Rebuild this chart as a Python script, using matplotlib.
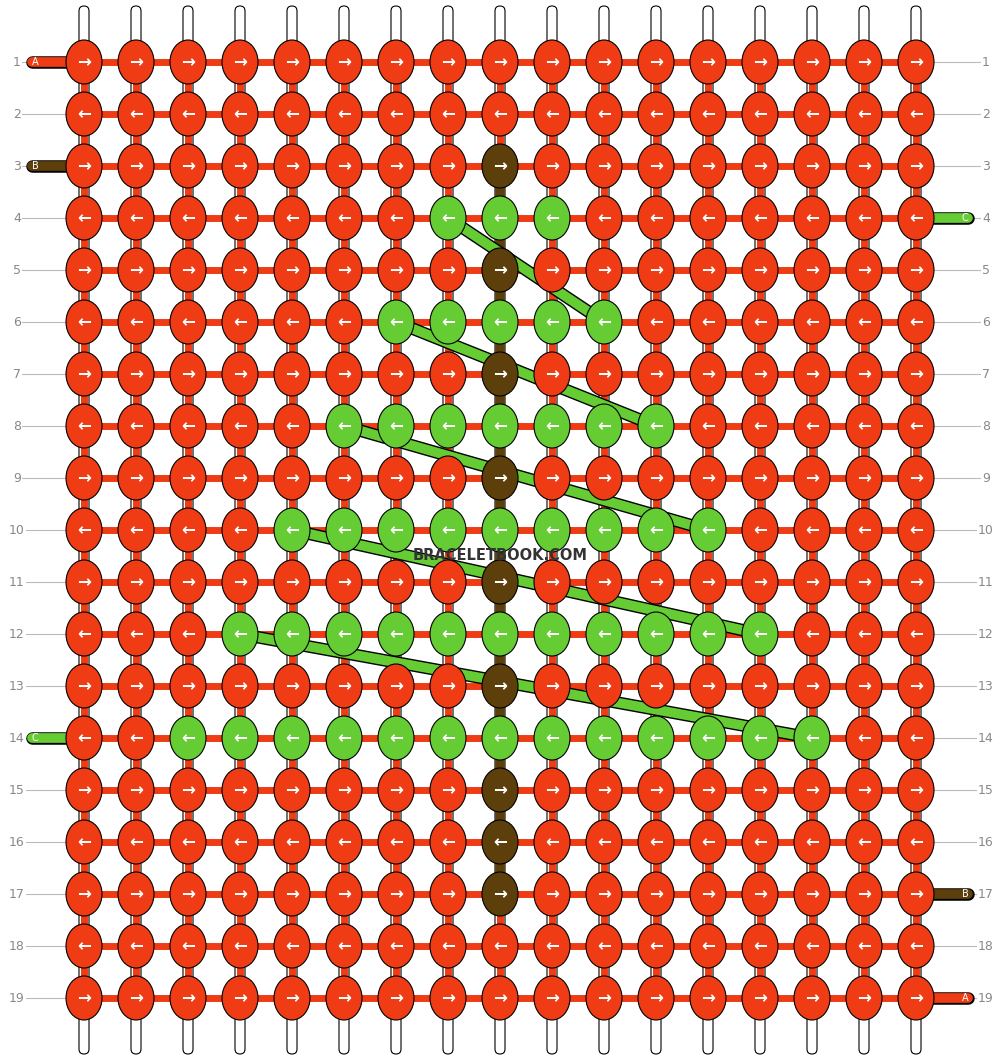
import matplotlib
matplotlib.use("Agg")
import matplotlib.pyplot as plt
from matplotlib.patches import Ellipse, FancyBboxPatch

n_cols = 17
n_rows = 19
# knot colours per row: 'O' orange, 'G' green, 'B' brown
rows = [
    "OOOOOOOOOOOOOOOOO",
    "OOOOOOOOOOOOOOOOO",
    "OOOOOOOOBOOOOOOOO",
    "OOOOOOOGGGOOOOOOO",
    "OOOOOOOOBOOOOOOOO",
    "OOOOOOGGGGGOOOOOO",
    "OOOOOOOOBOOOOOOOO",
    "OOOOOGGGGGGGOOOOO",
    "OOOOOOOOBOOOOOOOO",
    "OOOOGGGGGGGGGOOOO",
    "OOOOOOOOBOOOOOOOO",
    "OOOGGGGGGGGGGGOOO",
    "OOOOOOOOBOOOOOOOO",
    "OOGGGGGGGGGGGGGOO",
    "OOOOOOOOBOOOOOOOO",
    "OOOOOOOOBOOOOOOOO",
    "OOOOOOOOBOOOOOOOO",
    "OOOOOOOOOOOOOOOOO",
    "OOOOOOOOOOOOOOOOO",
]
colors = {"O": "#F03C14", "G": "#66CC33", "B": "#5C3F0A"}
# green diagonal threads: (col_start,row_start,col_end,row_end), 1-based
green_diag = [(8, 4, 11, 6), (7, 6, 12, 8), (6, 8, 13, 10), (5, 10, 14, 12), (4, 12, 15, 14)]
left_labels = {1: ("A", "O"), 3: ("B", "B"), 14: ("C", "G")}
right_labels = {4: ("C", "G"), 17: ("B", "B"), 19: ("A", "O")}

x0, dx = 84, 52
y0, dy = 62, 52
X = lambda c: x0 + (c - 1) * dx
Y = lambda r: y0 + (r - 1) * dy

fig = plt.figure(figsize=(10, 10.6), dpi=100)
ax = fig.add_axes([0, 0, 1, 1])
ax.set_xlim(0, 1000)
ax.set_ylim(1060, 0)
ax.axis("off")

# row label lines and numbers
for r in range(1, n_rows + 1):
    y = Y(r)
    ax.plot([20, 980], [y, y], color="#BBBBBB", lw=0.8, zorder=0)
    ax.text(17, y, str(r), ha="center", va="center", fontsize=9, color="#888888", zorder=1,
            bbox=dict(fc="white", ec="none", pad=1))
    ax.text(986, y, str(r), ha="center", va="center", fontsize=9, color="#888888", zorder=1,
            bbox=dict(fc="white", ec="none", pad=1))

# vertical white strings
for c in range(1, n_cols + 1):
    x = X(c)
    ax.add_patch(FancyBboxPatch((x - 5, 6), 10, 1048, boxstyle="round,pad=0,rounding_size=5",
                                fc="white", ec="black", lw=0.8, zorder=2))

# orange horizontal and vertical threads
for r in range(1, n_rows + 1):
    ax.plot([X(1), X(n_cols)], [Y(r), Y(r)], color="#F03C14", lw=5, zorder=3,
            solid_capstyle="butt")
for c in range(1, n_cols + 1):
    ax.plot([X(c), X(c)], [Y(1), Y(n_rows)], color="#F03C14", lw=5, zorder=3)

# brown vertical thread
ax.plot([X(9), X(9)], [Y(3), Y(17)], color="#5C3F0A", lw=7, zorder=4)

# green diagonal threads
for c1, r1, c2, r2 in green_diag:
    ax.plot([X(c1), X(c2)], [Y(r1), Y(r2)], color="black", lw=9, zorder=4,
            solid_capstyle="round")
    ax.plot([X(c1), X(c2)], [Y(r1), Y(r2)], color="#66CC33", lw=7, zorder=4.1,
            solid_capstyle="round")

# thread end stubs
for r, (lab, col) in left_labels.items():
    ax.plot([32, X(1)], [Y(r), Y(r)], color="black", lw=9, solid_capstyle="round", zorder=4)
    ax.plot([32, X(1)], [Y(r), Y(r)], color=colors[col], lw=7, solid_capstyle="round", zorder=4.1)
    ax.text(35, Y(r), lab, ha="center", va="center", fontsize=7, color="white", zorder=5)
for r, (lab, col) in right_labels.items():
    ax.plot([X(n_cols), 968], [Y(r), Y(r)], color="black", lw=9, solid_capstyle="round", zorder=4)
    ax.plot([X(n_cols), 968], [Y(r), Y(r)], color=colors[col], lw=7, solid_capstyle="round", zorder=4.1)
    ax.text(965, Y(r), lab, ha="center", va="center", fontsize=7, color="white", zorder=5)

# knots
for r in range(1, n_rows + 1):
    arrow = "→" if r % 2 == 1 else "←"
    for c in range(1, n_cols + 1):
        col = colors[rows[r - 1][c - 1]]
        ax.add_patch(Ellipse((X(c), Y(r)), 36, 44, fc=col, ec="black", lw=0.8, zorder=6))
        ax.text(X(c), Y(r), arrow, ha="center", va="center", fontsize=12, color="white",
                zorder=7, fontweight="bold")

ax.text(500, 555, "BRACELETBOOK.COM", ha="center", va="center", fontsize=10.5,
        fontweight="bold", color="#333333", zorder=8)

fig.savefig("out.png", dpi=100)
